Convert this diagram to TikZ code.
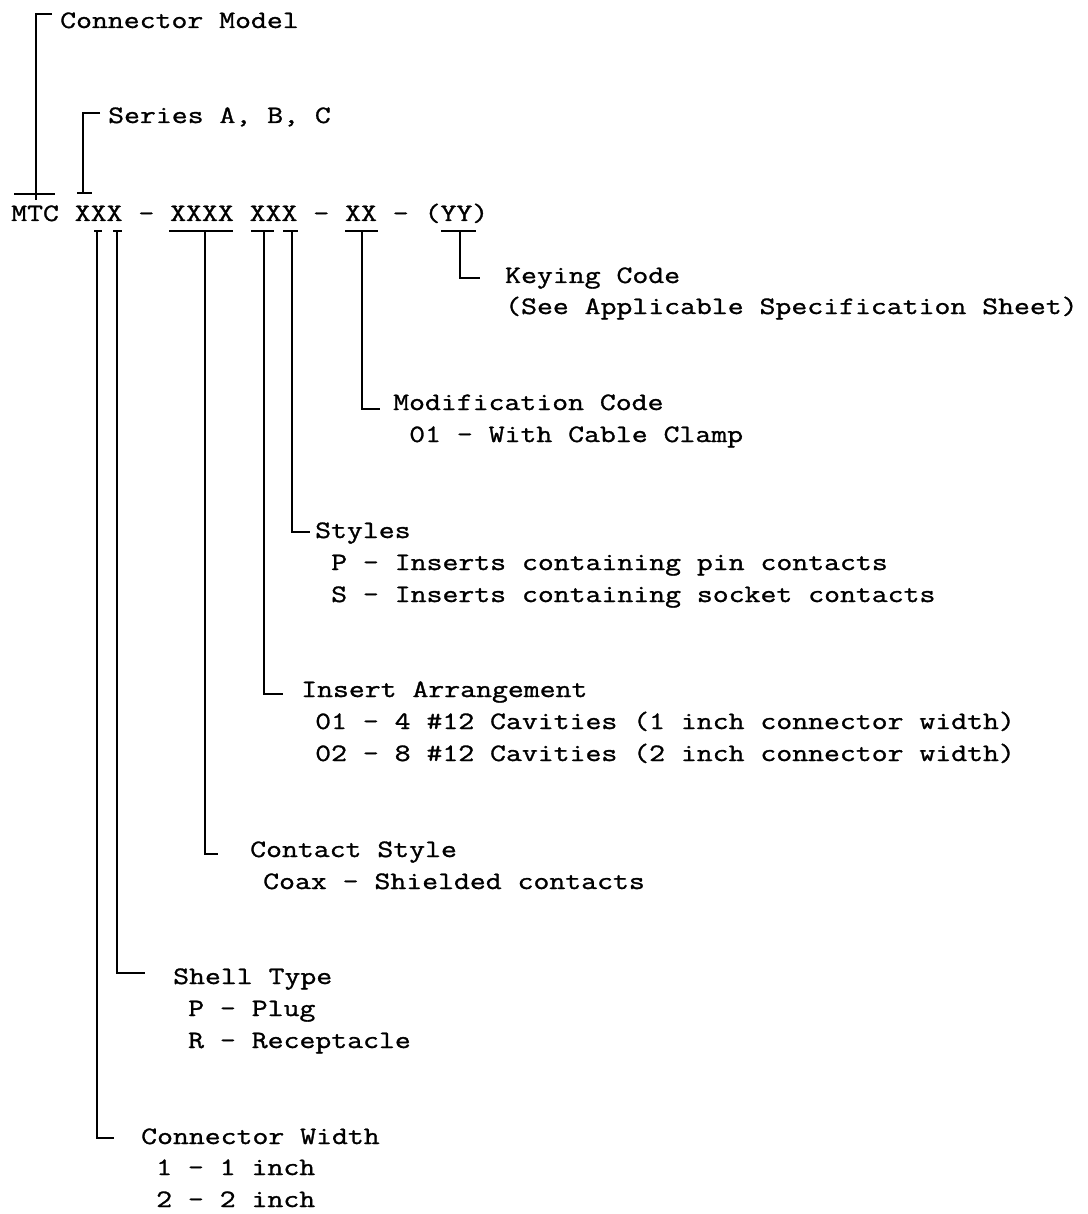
\documentclass[tikz,border=0pt]{standalone}
\usepackage{fontspec}
\newfontfamily\typewfont[FakeStretch=1.235,FakeBold=1.2]{Latin Modern Mono}
\usepackage{tikz}

\tikzset{
  lbl/.style={anchor=base west,inner sep=0pt,font=\typewfont\fontsize{25}{31}\selectfont},
  lead/.style={line width=2.3pt},
  bar/.style={line width=2.8pt}
}

\begin{document}
\begin{tikzpicture}[x=1pt,y=-1pt]
\useasboundingbox (0,0) rectangle (1087,1214);
% part number line
\node[lbl] (code) at (11,221) {MTC XXX - XXXX XXX - XX - (YY)};
% brackets above the code
\coordinate (modeltop) at (52,14);
\coordinate (modelfoot) at (36,200);
\coordinate (mtcl) at (14,194);
\coordinate (mtcr) at (55,194);
\draw[lead] (modeltop) -| (modelfoot);
\draw[bar] (mtcl) -- (mtcr);
\node[lbl] (model) at (60,28) {Connector Model};
\coordinate (seriestop) at (100,113);
\coordinate (seriesfoot) at (83,193);
\coordinate (seriesl) at (77,193);
\coordinate (seriesr) at (92,193);
\draw[lead] (seriestop) -| (seriesfoot);
\draw[bar] (seriesl) -- (seriesr);
\node[lbl] (series) at (108,123) {Series A, B, C};
% keying code
\coordinate (keyl) at (441,231);
\coordinate (keyr) at (476,231);
\coordinate (keyv) at (460,231);
\coordinate (keyend) at (480,278);
\draw[bar] (keyl) -- (keyr);
\draw[lead] (keyv) |- (keyend);
\node[lbl] (keying) at (505,283) {Keying Code};
\node[lbl] (keyingb) at (505,314) {(See Applicable Specification Sheet)};
% modification code
\coordinate (modl) at (345,231);
\coordinate (modr) at (378,231);
\coordinate (modv) at (362,231);
\coordinate (modend) at (380,409);
\draw[bar] (modl) -- (modr);
\draw[lead] (modv) |- (modend);
\node[lbl] (modif) at (393,410) {Modification Code};
\node[lbl] (modifa) at (409,442) {01 - With Cable Clamp};
% styles
\coordinate (stylel) at (283,231);
\coordinate (styler) at (298,231);
\coordinate (stylev) at (292,231);
\coordinate (styleend) at (310,532);
\draw[bar] (stylel) -- (styler);
\draw[lead] (stylev) |- (styleend);
\node[lbl] (styles) at (315,538) {Styles};
\node[lbl] (stylesp) at (331,570) {P - Inserts containing pin contacts};
\node[lbl] (styless) at (331,602) {S - Inserts containing socket contacts};
% insert arrangement
\coordinate (insl) at (251,231);
\coordinate (insr) at (274,231);
\coordinate (insv) at (264,231);
\coordinate (insend) at (283,694);
\draw[bar] (insl) -- (insr);
\draw[lead] (insv) |- (insend);
\node[lbl] (insert) at (301,697) {Insert Arrangement};
\node[lbl] (inserta) at (315,729) {01 - 4 \#12 Cavities (1 inch connector width)};
\node[lbl] (insertb) at (315,761) {02 - 8 \#12 Cavities (2 inch connector width)};
% contact style
\coordinate (conl) at (169,231);
\coordinate (conr) at (233,231);
\coordinate (conv) at (205,231);
\coordinate (conend) at (218,854);
\draw[bar] (conl) -- (conr);
\draw[lead] (conv) |- (conend);
\node[lbl] (contact) at (250,857) {Contact Style};
\node[lbl] (contacta) at (263,889) {Coax - Shielded contacts};
% shell type
\coordinate (shelll) at (113,231);
\coordinate (shellr) at (122,231);
\coordinate (shellv) at (117,231);
\coordinate (shellend) at (145,973);
\draw[bar] (shelll) -- (shellr);
\draw[lead] (shellv) |- (shellend);
\node[lbl] (shell) at (173,984) {Shell Type};
\node[lbl] (shellp) at (188,1016) {P - Plug};
\node[lbl] (shellrc) at (188,1048) {R - Receptacle};
% connector width
\coordinate (widthl) at (94,231);
\coordinate (widthr) at (102,231);
\coordinate (widthv) at (97,231);
\coordinate (widthend) at (114,1138);
\draw[bar] (widthl) -- (widthr);
\draw[lead] (widthv) |- (widthend);
\node[lbl] (width) at (141,1144) {Connector Width};
\node[lbl] (widtha) at (156,1175) {1 - 1 inch};
\node[lbl] (widthb) at (156,1207) {2 - 2 inch};
\end{tikzpicture}
\end{document}
